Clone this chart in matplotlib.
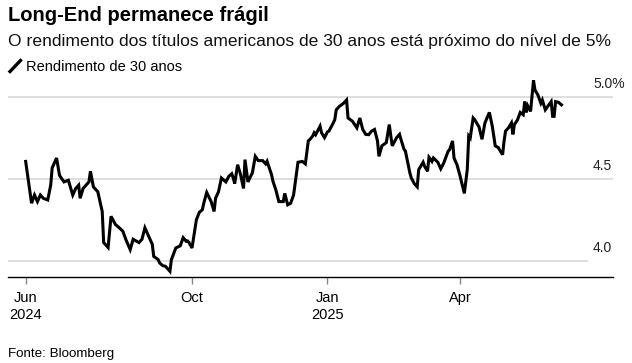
import matplotlib
matplotlib.use("Agg")
import matplotlib.pyplot as plt
import matplotlib.transforms as mtransforms
import pandas as pd

# 30-year US Treasury yield
dates = [
    "2024-06-10", "2024-06-14", "2024-06-16", "2024-06-18", "2024-06-20", "2024-06-22",
    "2024-06-25", "2024-06-27", "2024-06-28", "2024-07-01", "2024-07-03", "2024-07-06",
    "2024-07-09", "2024-07-12", "2024-07-14", "2024-07-16", "2024-07-17", "2024-07-19",
    "2024-07-23", "2024-07-24", "2024-07-26", "2024-07-29", "2024-08-01", "2024-08-02",
    "2024-08-05", "2024-08-07", "2024-08-10", "2024-08-12", "2024-08-15", "2024-08-17",
    "2024-08-20", "2024-08-22", "2024-08-26", "2024-08-28", "2024-08-30", "2024-09-01",
    "2024-09-04", "2024-09-05", "2024-09-08", "2024-09-09", "2024-09-11", "2024-09-13",
    "2024-09-16", "2024-09-17", "2024-09-20", "2024-09-23", "2024-09-25", "2024-09-27",
    "2024-09-28", "2024-09-29", "2024-10-01", "2024-10-04", "2024-10-06", "2024-10-08",
    "2024-10-09", "2024-10-11", "2024-10-14", "2024-10-16", "2024-10-17", "2024-10-19",
    "2024-10-21", "2024-10-24", "2024-10-26", "2024-10-28", "2024-10-29", "2024-10-30",
    "2024-11-01", "2024-11-03", "2024-11-05", "2024-11-06", "2024-11-08", "2024-11-11",
    "2024-11-13", "2024-11-15", "2024-11-18", "2024-11-20", "2024-11-21", "2024-11-24",
    "2024-11-25", "2024-11-27", "2024-11-29", "2024-12-02", "2024-12-03", "2024-12-05",
    "2024-12-07", "2024-12-09", "2024-12-12", "2024-12-15", "2024-12-17", "2024-12-19",
    "2024-12-20", "2024-12-22", "2024-12-23", "2024-12-24", "2024-12-27", "2024-12-28",
    "2024-12-30", "2025-01-01", "2025-01-02", "2025-01-05", "2025-01-06", "2025-01-07",
    "2025-01-09", "2025-01-12", "2025-01-14", "2025-01-15", "2025-01-18", "2025-01-21",
    "2025-01-23", "2025-01-25", "2025-01-27", "2025-01-29", "2025-01-31", "2025-02-02",
    "2025-02-04", "2025-02-05", "2025-02-07", "2025-02-10", "2025-02-12", "2025-02-14",
    "2025-02-17", "2025-02-19", "2025-02-20", "2025-02-22", "2025-02-23", "2025-02-26",
    "2025-02-27", "2025-03-01", "2025-03-03", "2025-03-04", "2025-03-07", "2025-03-08",
    "2025-03-10", "2025-03-11", "2025-03-13", "2025-03-14", "2025-03-17", "2025-03-19",
    "2025-03-21", "2025-03-24", "2025-03-25", "2025-03-27", "2025-03-28", "2025-03-30",
    "2025-04-01", "2025-04-04", "2025-04-06", "2025-04-07", "2025-04-08", "2025-04-10",
    "2025-04-11", "2025-04-14", "2025-04-16", "2025-04-18", "2025-04-21", "2025-04-23",
    "2025-04-25", "2025-04-27", "2025-04-30", "2025-05-01", "2025-05-02", "2025-05-04",
    "2025-05-06", "2025-05-07", "2025-05-08", "2025-05-10", "2025-05-12", "2025-05-14",
    "2025-05-15", "2025-05-16", "2025-05-17", "2025-05-19", "2025-05-21", "2025-05-22",
    "2025-05-24", "2025-05-26", "2025-05-27", "2025-05-29", "2025-05-31", "2025-06-02",
    "2025-06-03", "2025-06-04", "2025-06-05", "2025-06-07", "2025-06-09",
]
yields = [
    4.605, 4.35, 4.40, 4.36, 4.40, 4.38,
    4.37, 4.46, 4.565, 4.626, 4.52, 4.48,
    4.49, 4.40, 4.44, 4.46, 4.38, 4.44,
    4.48, 4.545, 4.45, 4.42, 4.30, 4.11,
    4.08, 4.27, 4.22, 4.205, 4.18, 4.13,
    4.067, 4.13, 4.11, 4.13, 4.20, 4.16,
    4.10, 4.026, 4.006, 3.986, 3.97, 3.965,
    3.935, 4.006, 4.077, 4.09, 4.14, 4.118,
    4.12, 4.11, 4.077, 4.25, 4.295, 4.31,
    4.35, 4.416, 4.36, 4.30, 4.38, 4.42,
    4.504, 4.48, 4.514, 4.53, 4.504, 4.47,
    4.585, 4.524, 4.44, 4.616, 4.48, 4.535,
    4.636, 4.61, 4.61, 4.59, 4.606, 4.525,
    4.484, 4.43, 4.36, 4.36, 4.41, 4.34,
    4.35, 4.40, 4.60, 4.605, 4.59, 4.73,
    4.738, 4.76, 4.78, 4.768, 4.82, 4.78,
    4.75, 4.785, 4.79, 4.84, 4.86, 4.92,
    4.94, 4.96, 4.98, 4.87, 4.85, 4.81,
    4.87, 4.80, 4.77, 4.768, 4.79, 4.80,
    4.73, 4.636, 4.70, 4.72, 4.83, 4.70,
    4.75, 4.77, 4.738, 4.68, 4.667, 4.535,
    4.504, 4.47, 4.45, 4.555, 4.60, 4.575,
    4.545, 4.63, 4.605, 4.626, 4.60, 4.56,
    4.595, 4.667, 4.677, 4.73, 4.626, 4.585,
    4.52, 4.41, 4.555, 4.76, 4.748, 4.87,
    4.86, 4.815, 4.74, 4.84, 4.904, 4.82,
    4.70, 4.69, 4.646, 4.73, 4.79, 4.81,
    4.84, 4.77, 4.83, 4.856, 4.904, 4.89,
    4.97, 4.904, 4.945, 4.91, 5.10, 5.04,
    5.01, 4.96, 4.98, 4.92, 4.945, 4.97,
    4.88, 4.88, 4.97, 4.965, 4.95,
]

tick_dates = ["2024-06-10", "2024-10-01", "2025-01-01", "2025-04-01"]
tick_labels = ["Jun\n2024", "Oct", "Jan\n2025", "Apr"]
y_levels = [4.0, 4.5, 5.0]
y_labels = ["4.0", "4.5", "5.0%"]

plt.rcParams["font.family"] = ["Liberation Sans", "DejaVu Sans"]

W, H = 632, 363
fig = plt.figure(figsize=(W / 100, H / 100), dpi=100)
ax = fig.add_axes([8 / W, 86 / H, 605 / W, 200 / H])

x = pd.to_datetime(dates)
ax.plot(x, yields, color="black", lw=2.2, solid_joinstyle="miter", zorder=3)

ax.set_xlim(pd.Timestamp("2024-05-29"), pd.Timestamp("2025-07-14"))
ax.set_ylim(3.90, 5.12)

# horizontal grid, labels sit just above each line
trans = mtransforms.blended_transform_factory(ax.transAxes, ax.transData)
for lvl, lab in zip(y_levels, y_labels):
    xmax = 0.957 if lvl == 4.0 else 1.0
    ax.axhline(lvl, xmin=0, xmax=xmax, color="#dedede", lw=1.4, zorder=1)
    ax.text(0.967, lvl + 0.055, lab, transform=trans, ha="left", va="baseline",
            fontsize=10, color="#222222")

for side in ["top", "right", "left"]:
    ax.spines[side].set_visible(False)
ax.spines["bottom"].set_color("black")
ax.spines["bottom"].set_linewidth(1.0)

ax.set_yticks([])
ax.set_xticks(pd.to_datetime(tick_dates))
ax.set_xticklabels(tick_labels, fontsize=10.5, linespacing=1.3)
ax.tick_params(axis="x", length=5, width=1, color="#888888", pad=5)

# header and footer
fig.text(8 / W, 1 - 20.7 / H, "Long-End permanece frágil", fontsize=14.5,
         fontweight="bold", ha="left", va="baseline")
fig.text(8 / W, 1 - 45.7 / H,
         "O rendimento dos títulos americanos de 30 anos está próximo do nível de 5%",
         fontsize=12.6, ha="left", va="baseline", color="#111111")
fig.text(26 / W, 1 - 70.7 / H, "Rendimento de 30 anos", fontsize=10.5,
         ha="left", va="baseline")
fig.add_artist(plt.Line2D([10 / W, 20.5 / W], [1 - 71.5 / H, 1 - 60.5 / H],
                          color="black", lw=2.4, transform=fig.transFigure))
fig.text(8 / W, 1 - 357.3 / H, "Fonte: Bloomberg", fontsize=9.6,
         ha="left", va="baseline")

fig.savefig("out.png", dpi=100)
